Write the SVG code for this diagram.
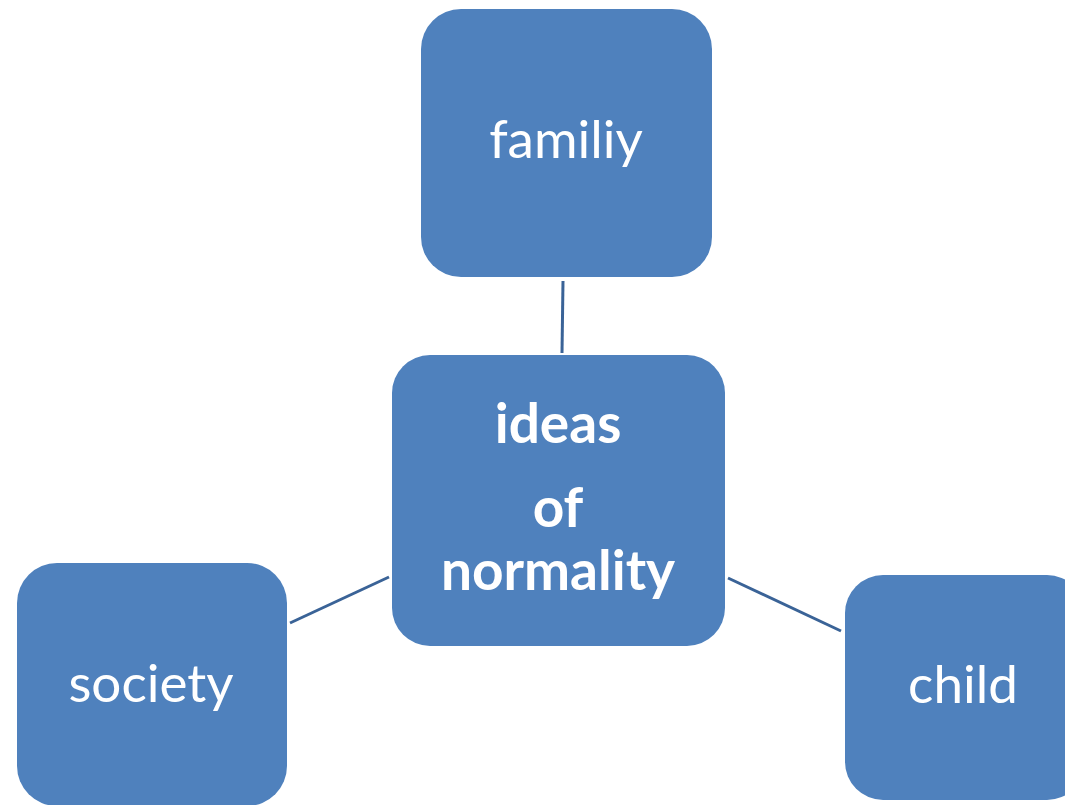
<svg xmlns="http://www.w3.org/2000/svg" width="1065" height="805" viewBox="0 0 1065 805">
  <style>
    .box { fill: #4F81BD; }
    .label { fill: #FFFFFF; font-family: Lato, "Open Sans", "Noto Sans", sans-serif; text-anchor: middle; }
    .reg { font-size: 53px; font-weight: 400; }
    .bold { font-size: 55px; font-weight: 700; }
    .link { stroke: #3A6397; stroke-width: 3; fill: none; }
  </style>
  <rect width="1065" height="805" fill="#FFFFFF"/>
  <g id="connectors">
    <line class="link" x1="563" y1="281" x2="562" y2="353"/>
    <line class="link" x1="290" y1="623" x2="389" y2="577"/>
    <line class="link" x1="728" y1="578" x2="841" y2="631"/>
  </g>
  <g id="node-family">
    <rect class="box" x="421" y="9" width="291" height="268" rx="40" ry="40"/>
    <text class="label reg" x="566" y="158">familiy</text>
  </g>
  <g id="node-ideas">
    <rect class="box" x="392" y="355" width="333" height="291" rx="38" ry="38"/>
    <text class="label bold" x="558" y="443">ideas</text>
    <text class="label bold" x="558" y="527">of</text>
    <text class="label bold" x="558" y="590">normality</text>
  </g>
  <g id="node-society">
    <rect class="box" x="17" y="563" width="270" height="243" rx="40" ry="40"/>
    <text class="label reg" x="151" y="702">society</text>
  </g>
  <g id="node-child">
    <rect class="box" x="845" y="575" width="240" height="225" rx="38" ry="38"/>
    <text class="label reg" x="963" y="703">child</text>
  </g>
</svg>
